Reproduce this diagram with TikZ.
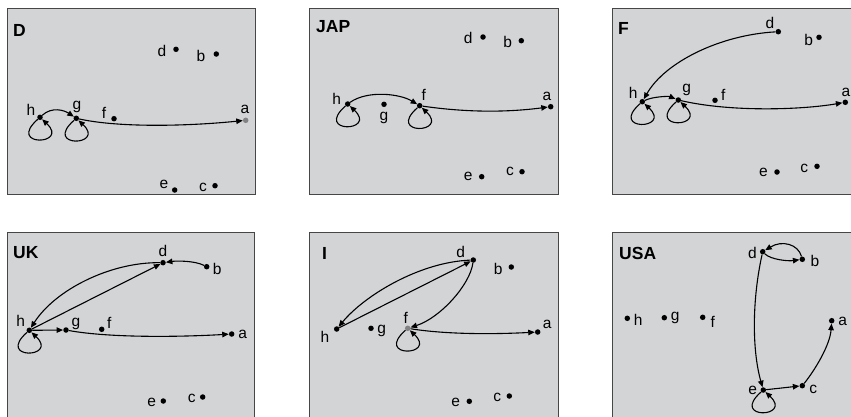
\documentclass[tikz,border=0pt]{standalone}
\usepackage{fontspec}
\setmainfont{Liberation Sans}
\usetikzlibrary{arrows.meta}
\definecolor{panelfill}{RGB}{211,212,214}
\definecolor{panelline}{RGB}{70,70,70}
\definecolor{dotgrey}{RGB}{130,130,130}
\tikzset{
  panel/.style={fill=panelfill, draw=panelline, line width=1pt},
  dot/.style={circle, fill=black, inner sep=0pt, minimum size=5.5pt},
  greydot/.style={dot, fill=dotgrey},
  lab/.style={inner sep=0pt, font=\fontsize{15.5}{17}\selectfont},
  ttl/.style={inner sep=0pt, anchor=west, font=\fontsize{17.5}{19}\selectfont\bfseries},
  edge/.style={line width=1.1pt, -{Triangle[length=6.5pt,width=5.5pt]}},
}
\newcommand{\selfloop}[1]{\draw[edge] (#1) .. controls +(-34,30) and +(30,28) .. (#1);}
\begin{document}
\begin{tikzpicture}[x=1pt,y=-1pt]
\useasboundingbox (0,0) rectangle (851,416);
\clip (0,0) rectangle (851,416);
% panels
\draw[panel] (7,8) rectangle (255,194);
\draw[panel] (309,8) rectangle (558,194);
\draw[panel] (612,8) rectangle (880,194);
\draw[panel] (7,232) rectangle (254,440);
\draw[panel] (309,232) rectangle (558,440);
\draw[panel] (612,232) rectangle (880,440);
% titles
\node[ttl] (tD) at (13,30) {D};
\node[ttl] (tJ) at (316,27) {JAP};
\node[ttl] (tF) at (618,28) {F};
\node[ttl] (tU) at (13,253) {UK};
\node[ttl] (tI) at (322,253) {I};
\node[ttl] (tS) at (619,253) {USA};

% ---------- Panel D
\node[dot] (Dd) at (176,49.3) {};
\node[dot] (Db) at (216.3,54) {};
\node[dot] (Dh) at (40,117.3) {};
\node[dot] (Dg) at (76.3,118.3) {};
\node[dot] (Df) at (114,118.7) {};
\node[greydot] (Da) at (245.7,120.3) {};
\node[dot] (De) at (174.7,190) {};
\node[dot] (Dc) at (215,185.7) {};
\node[lab] (Dld) at (162,51) {d};
\node[lab] (Dlb) at (201,56) {b};
\node[lab] (Dlh) at (31,110) {h};
\node[lab] (Dlg) at (77,107) {g};
\node[lab] (Dlf) at (104,113) {f};
\node[lab] (Dla) at (245,109) {a};
\node[lab] (Dle) at (164,184) {e};
\node[lab] (Dlc) at (203,187) {c};
\draw[edge] (Dh) .. controls +(12,-11) and +(-12,-8) .. (Dg);
\draw[edge] (Dg) .. controls (120,128) and (190,126) .. (Da);
\selfloop{Dh}
\selfloop{Dg}

% ---------- Panel JAP
\node[dot] (Jd) at (483,37) {};
\node[dot] (Jb) at (521.3,40.7) {};
\node[dot] (Jh) at (347.7,104) {};
\node[dot] (Jg) at (384,104.3) {};
\node[dot] (Jf) at (419.7,105.7) {};
\node[dot] (Ja) at (550.7,106.7) {};
\node[dot] (Je) at (481.7,176.7) {};
\node[dot] (Jc) at (522,171.7) {};
\node[lab] (Jld) at (468.3,37.7) {d};
\node[lab] (Jlb) at (507.7,41.7) {b};
\node[lab] (Jlh) at (336.7,99) {h};
\node[lab] (Jlg) at (384,118.3) {g};
\node[lab] (Jlf) at (423.7,95) {f};
\node[lab] (Jla) at (547,96) {a};
\node[lab] (Jle) at (468.3,176.7) {e};
\node[lab] (Jlc) at (510,171.7) {c};
\draw[edge] (Jh) .. controls +(20,-14) and +(-20,-12) .. (Jf);
\draw[edge] (Jf) .. controls (470,113) and (510,112) .. (Ja);
\selfloop{Jh}
\selfloop{Jf}

% ---------- Panel F
\node[dot] (Fd) at (778.3,31.7) {};
\node[dot] (Fb) at (819,37.3) {};
\node[dot] (Fh) at (642.3,101.7) {};
\node[dot] (Fg) at (678.3,100) {};
\node[dot] (Ff) at (715,100.3) {};
\node[dot] (Fa) at (845.3,102.3) {};
\node[dot] (Fe) at (777,172) {};
\node[dot] (Fc) at (817,166.3) {};
\node[lab] (Fld) at (770,22.7) {d};
\node[lab] (Flb) at (808.7,40) {b};
\node[lab] (Flh) at (633.3,92.7) {h};
\node[lab] (Flg) at (686.7,90) {g};
\node[lab] (Flf) at (723.3,95) {f};
\node[lab] (Fla) at (846,92) {a};
\node[lab] (Fle) at (763.3,172.7) {e};
\node[lab] (Flc) at (804.3,168.3) {c};
\draw[edge] (Fd) .. controls (720,35) and (665,62) .. (Fh);
\draw[edge] (Fh) .. controls +(10,-5) and +(-10,-4) .. (Fg);
\draw[edge] (Fg) .. controls (730,112) and (800,110) .. (Fa);
\selfloop{Fh}
\selfloop{Fg}

% ---------- Panel UK
\node[dot] (Ud) at (163,262.7) {};
\node[dot] (Ub) at (206.7,266.7) {};
\node[dot] (Uh) at (29.3,330.3) {};
\node[dot] (Ug) at (66,330) {};
\node[dot] (Uf) at (101.7,329.3) {};
\node[dot] (Ua) at (231.7,334) {};
\node[dot] (Ue) at (163.3,401) {};
\node[dot] (Uc) at (202.7,397) {};
\node[lab] (Uld) at (163,250.7) {d};
\node[lab] (Ulb) at (217.3,269.3) {b};
\node[lab] (Ulh) at (20.7,321) {h};
\node[lab] (Ulg) at (76,324.3) {g};
\node[lab] (Ulf) at (109.3,323.3) {f};
\node[lab] (Ula) at (242.7,334.7) {a};
\node[lab] (Ule) at (151.7,402.7) {e};
\node[lab] (Ulc) at (191.7,398.7) {c};
\draw[edge] (Ub) .. controls +(-12,-6) and +(14,-2) .. (Ud);
\draw[edge] (Ud) .. controls (110,262) and (55,290) .. (Uh);
\draw[edge] (Uh) -- (Ud);
\draw[edge] (Uh) -- (Ug);
\draw[edge] (Ug) .. controls (110,338) and (180,337) .. (Ua);
\selfloop{Uh}

% ---------- Panel I
\node[dot] (Id) at (473.3,260) {};
\node[dot] (Ib) at (511.3,267) {};
\node[dot] (Ih) at (336.7,329) {};
\node[dot] (Ig) at (371,328.3) {};
\node[greydot] (If) at (407.7,328.3) {};
\node[dot] (Ia) at (537.7,332) {};
\node[dot] (Ie) at (469.3,401.3) {};
\node[dot] (Ic) at (509.3,396) {};
\node[lab] (Ild) at (460.7,251.7) {d};
\node[lab] (Ilb) at (498.3,269) {b};
\node[lab] (Ilh) at (325,336.7) {h};
\node[lab] (Ilg) at (381.7,330.7) {g};
\node[lab] (Ilf) at (405.7,317.7) {f};
\node[lab] (Ila) at (547.3,324.3) {a};
\node[lab] (Ile) at (455.7,402.7) {e};
\node[lab] (Ilc) at (497.3,397.3) {c};
\draw[edge] (Id) .. controls (420,262) and (365,295) .. (Ih);
\draw[edge] (Ih) -- (Id);
\draw[edge] (Id) .. controls (470,285) and (440,318) .. (If);
\draw[edge] (If) .. controls (450,335) and (500,334) .. (Ia);
\selfloop{If}

% ---------- Panel USA
\node[dot] (Sd) at (762.7,251.7) {};
\node[dot] (Sb) at (802.3,259.3) {};
\node[dot] (Sh) at (627.3,318.3) {};
\node[dot] (Sg) at (664.3,317.7) {};
\node[dot] (Sf) at (702.7,317.3) {};
\node[dot] (Sa) at (831.7,320.7) {};
\node[dot] (Se) at (763.3,390) {};
\node[dot] (Sc) at (802.3,385.7) {};
\node[lab] (Sld) at (752.3,253.3) {d};
\node[lab] (Slb) at (815,260.7) {b};
\node[lab] (Slh) at (638.3,320) {h};
\node[lab] (Slg) at (675.3,318.3) {g};
\node[lab] (Slf) at (712.7,321.7) {f};
\node[lab] (Sla) at (842.7,321.7) {a};
\node[lab] (Sle) at (752.7,390) {e};
\node[lab] (Slc) at (813.3,389) {c};
\draw[edge] (Sd) .. controls +(8,8) and +(-14,2) .. (Sb);
\draw[edge] (Sb) .. controls (798,244) and (782,240) .. (Sd);
\draw[edge] (Sd) .. controls (752,300) and (752,350) .. (Se);
\draw[edge] (Se) -- (Sc);
\draw[edge] (Sc) .. controls (815,370) and (830,345) .. (Sa);
\selfloop{Se}
\end{tikzpicture}
\end{document}
